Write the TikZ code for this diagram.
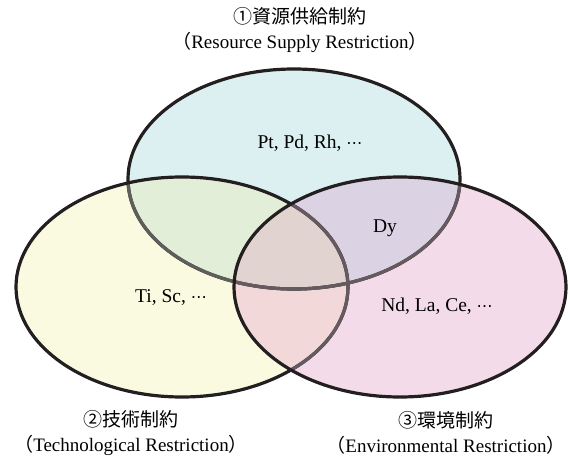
\documentclass[tikz,border=0pt]{standalone}
\usepackage{fontspec}
\setmainfont{Liberation Serif}
\newfontfamily\jp{Noto Sans CJK JP}
\newfontfamily\dv{DejaVu Sans}
\newcommand{\mydots}{{\dv\fontsize{16}{20}\selectfont ⋯}}
\newcommand{\lpar}{\makebox[0.5em][r]{\jp （}}
\newcommand{\rpar}{\makebox[0.5em][l]{\jp ）}}
\definecolor{cT}{HTML}{DCEFF1}
\definecolor{cL}{HTML}{FAFAE1}
\definecolor{cR}{HTML}{F3DBEA}
\definecolor{cTL}{HTML}{E2EED8}
\definecolor{cTR}{HTML}{DBD3E3}
\definecolor{cLR}{HTML}{F2D8D8}
\definecolor{cTLR}{HTML}{E0D3D0}
\definecolor{ink}{HTML}{231F20}
\definecolor{grayA}{HTML}{5E5F5A}
\definecolor{grayB}{HTML}{655A60}
\begin{document}
\begin{tikzpicture}[x=1pt,y=-1pt,
  shT/.style={insert path={(294,179) ellipse [x radius=166pt, y radius=110pt]}},
  shL/.style={insert path={(182,287) ellipse [x radius=166pt, y radius=110pt]}},
  shR/.style={insert path={(400,287) ellipse [x radius=166pt, y radius=110pt]}},
  rim/.style={line width=3.2pt},
  lbl/.style={font=\fontsize{19}{25}\selectfont, align=center, inner sep=0pt},
  elt/.style={font=\fontsize{19.5}{23}\selectfont, inner sep=0pt}]
\useasboundingbox (0,0) rectangle (570,465);
% fills
\fill[cT, shT];
\fill[cL, shL];
\fill[cR, shR];
\begin{scope}
  \clip[shT];
  \fill[cTL, shL];
  \fill[cTR, shR];
\end{scope}
\begin{scope}
  \clip[shL];
  \fill[cLR, shR];
  \begin{scope}
    \clip[shT];
    \fill[cTLR, shR];
  \end{scope}
\end{scope}
% outlines
\draw[ink, rim, shT];
\begin{scope}
  \clip[shL];
  \draw[grayA, rim, shT];
\end{scope}
\draw[ink, rim, shL];
\begin{scope}
  \clip[shR];
  \draw[grayB, rim, shT];
  \draw[grayB, rim, shL];
\end{scope}
\draw[ink, rim, shR];
% labels
\node[lbl] (res) at (300,30) {{\jp ①資源供給制約}\\\lpar Resource Supply Restriction\rpar};
\node[lbl] (tech) at (131,433) {{\jp ②技術制約}\\\lpar Technological Restriction\rpar};
\node[lbl] (env) at (446,433) {{\jp ③環境制約}\\\lpar Environmental Restriction\rpar};
\node[elt] (pt) at (310,143) {Pt, Pd, Rh, \mydots};
\node[elt] (dy) at (385,228) {Dy};
\node[elt] (ti) at (171,298) {Ti, Sc, \mydots};
\node[elt] (nd) at (437,306) {Nd, La, Ce, \mydots};
\end{tikzpicture}
\end{document}
